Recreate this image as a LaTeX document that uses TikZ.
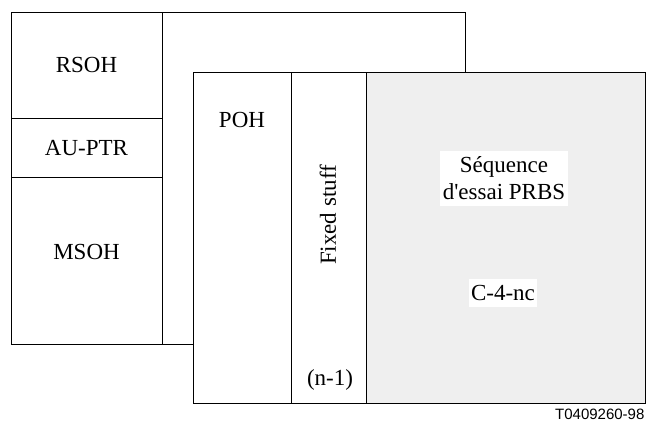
\documentclass[tikz,border=0pt]{standalone}
\usepackage{fontspec}
\setmainfont{Liberation Serif}
\newfontfamily\labelsans{Liberation Sans}
\begin{document}
\begin{tikzpicture}[x=1pt,y=-1pt,
  frame/.style={draw=black,line width=1pt},
  lbl/.style={font=\fontsize{23}{27}\selectfont,inner sep=0pt},
  wbox/.style={font=\fontsize{23}{27}\selectfont,fill=white,inner xsep=3pt,inner ysep=0pt,align=center}]
\useasboundingbox (0,0) rectangle (646,421);
% back frame
\draw[frame,fill=white] (11,12) rectangle (465,344);
\draw[frame] (162,12) -- (162,344);
\draw[frame] (11,118) -- (162,118);
\draw[frame] (11,177) -- (162,177);
% front frame
\fill[white] (193,72) rectangle (645,403);
\fill[fill={rgb,255:red,239;green,239;blue,239}] (366,72) rectangle (645,403);
\draw[frame] (193,72) rectangle (645,403);
\draw[frame] (291,72) -- (291,403);
\draw[frame] (366,72) -- (366,403);
% texts
\node[lbl] (rsoh) at (86.5,65) {RSOH};
\node[lbl] (auptr) at (86.5,148) {AU-PTR};
\node[lbl] (msoh) at (86.5,252) {MSOH};
\node[lbl] (poh) at (242,120) {POH};
\node[lbl,rotate=90] (fixed) at (328,215) {Fixed stuff};
\node[lbl] (nm1) at (330,380) {(n-1)};
\node[wbox,minimum height=55pt] (seq) at (504,178.5) {Séquence\\d\textquotesingle essai PRBS};
\node[wbox,inner xsep=2pt,minimum height=28pt] (c4) at (503,293) {C-4-nc};
\node[anchor=base west,inner sep=0pt,font=\labelsans\fontsize{15}{18}\selectfont] (tag) at (555,419) {T0409260-98};
\end{tikzpicture}
\end{document}
